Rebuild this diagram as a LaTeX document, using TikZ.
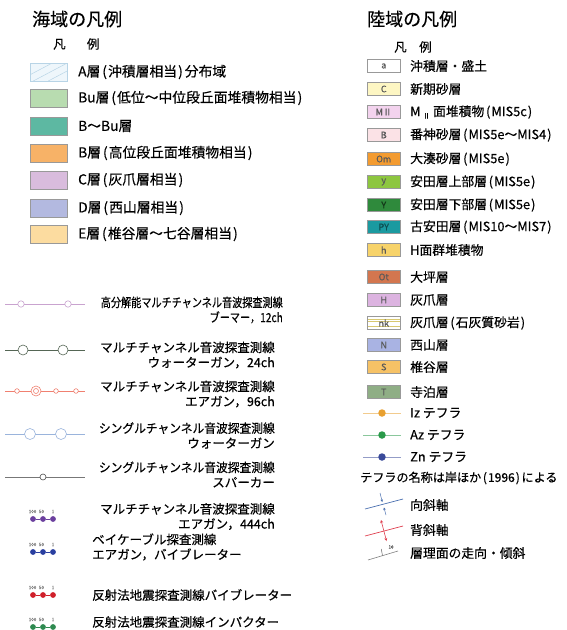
\documentclass[tikz,border=0pt]{standalone}
\usepackage{fontspec}
\setmainfont[FakeBold=0.35]{Noto Sans CJK JP}
\usepackage{graphicx}
\usetikzlibrary{arrows.meta}
\newcommand{\jpl}{\hspace{0.14em}(\hspace{0.08em}}
\newcommand{\jpr}{\hspace{0.08em})\hspace{0.14em}}
\definecolor{cA}{HTML}{EEF6FB}
\definecolor{cAl}{HTML}{B8D4E6}
\definecolor{cBu}{HTML}{B8DCB0}
\definecolor{cBBu}{HTML}{5DB8A2}
\definecolor{cB}{HTML}{F7B267}
\definecolor{cC}{HTML}{D9BCDD}
\definecolor{cD}{HTML}{B3B9E0}
\definecolor{cE}{HTML}{FCDCA0}
\definecolor{ra}{HTML}{FFFFFF}
\definecolor{rC}{HTML}{FDF6C3}
\definecolor{rM}{HTML}{F3D3EE}
\definecolor{rB}{HTML}{FBE2E6}
\definecolor{rOm}{HTML}{F39B30}
\definecolor{ry}{HTML}{8DC63F}
\definecolor{rY}{HTML}{2F8A3C}
\definecolor{rPY}{HTML}{1B9AA0}
\definecolor{rh}{HTML}{F7D36A}
\definecolor{rOt}{HTML}{D3764F}
\definecolor{rH}{HTML}{DCB3E0}
\definecolor{rnk}{HTML}{D8C870}
\definecolor{rN}{HTML}{A9B3E3}
\definecolor{rS}{HTML}{F6C266}
\definecolor{rT}{HTML}{8FAE85}
\definecolor{l1}{HTML}{C9A3CF}
\definecolor{l2}{HTML}{556655}
\definecolor{l3}{HTML}{F08070}
\definecolor{l4}{HTML}{9AB4DC}
\definecolor{l5}{HTML}{777777}
\definecolor{dP}{HTML}{6B3F9E}
\definecolor{dB}{HTML}{2A3FA0}
\definecolor{dR}{HTML}{D0202A}
\definecolor{dG}{HTML}{2E8A50}
\definecolor{tIz}{HTML}{E8A030}
\definecolor{tAz}{HTML}{2A9A4A}
\definecolor{tZn}{HTML}{3A4A9A}
\definecolor{fBl}{HTML}{4A70B0}
\definecolor{fRd}{HTML}{E04050}
\begin{document}
\begin{tikzpicture}[x=1pt,y=-1pt,
  titletxt/.style={anchor=west, inner sep=0, font=\fontsize{18}{20}\selectfont},
  hanrei/.style={anchor=west, inner sep=0, font=\fontsize{12.5}{14}\selectfont},
  sw/.style={draw=gray!80, line width=0.5pt, minimum width=37pt, minimum height=18pt, inner sep=0, anchor=west},
  ltxt/.style={anchor=west, inner sep=0, font=\fontsize{13.8}{15}\selectfont},
  rbox/.style={draw=gray!80, line width=0.5pt, minimum width=33pt, minimum height=13pt, inner sep=0, anchor=west, font=\fontsize{9}{10}\selectfont, text=black!65},
  rtxt/.style={anchor=west, inner sep=0, font=\fontsize{12.8}{14}\selectfont},
  mtxt/.style={inner sep=0, font=\fontsize{12.5}{15}\selectfont},
  tinytxt/.style={inner sep=0, font=\fontsize{4.6}{5}\selectfont, text=gray},
  dotn/.style={circle, inner sep=0, minimum size=5.8pt, fill=#1},
  ring/.style={circle, inner sep=0, draw=#1, fill=white, line width=0.6pt},
  tdot/.style={circle, inner sep=0, minimum size=7.5pt, fill=#1},
]
\useasboundingbox[fill=white] (0,0) rectangle (566,630);

% ---------- Left: sea area legend ----------
\node[titletxt] (ttl) at (32,19) {海域の凡例};
\node[hanrei] (hL) at (53,44) {凡\hspace{1.7em}例};

\node[sw, fill=cA, draw=cAl, path picture={
  \foreach \i in {0,1,2} \draw[cAl, line width=0.5pt] ([xshift=\i*15pt-12pt]path picture bounding box.south west) -- ++(34pt,18pt);
}] (swA) at (30,72) {};
\node[ltxt] (tA) at (78,72) {A層\jpl 沖積層相当\jpr 分布域};
\node[sw, fill=cBu] (swBu) at (30,98) {};
\node[ltxt] (tBu) at (78,98) {Bu層\jpl 低位～中位段丘面堆積物相当\jpr};
\node[sw, fill=cBBu] (swBBu) at (30,126) {};
\node[ltxt] (tBBu) at (78,126) {B～Bu層};
\node[sw, fill=cB] (swB) at (30,153) {};
\node[ltxt] (tB) at (78,153) {B層\jpl 高位段丘面堆積物相当\jpr};
\node[sw, fill=cC] (swC) at (30,180) {};
\node[ltxt] (tC) at (78,180) {C層\jpl 灰爪層相当\jpr};
\node[sw, fill=cD] (swD) at (30,208) {};
\node[ltxt] (tD) at (78,208) {D層\jpl 西山層相当\jpr};
\node[sw, fill=cE] (swE) at (30,234) {};
\node[ltxt] (tE) at (78,234) {E層\jpl 椎谷層～七谷層相当\jpr};

% survey lines
\coordinate (a1) at (5,304); \coordinate (b1) at (85,304);
\draw[l1, line width=0.6pt] (a1) -- (b1);
\node[ring=l1, minimum size=6.4pt] (c1a) at (21,304) {};
\node[ring=l1, minimum size=6.4pt] (c1b) at (68,304) {};
\node[mtxt, align=right, anchor=east] (m1) at (283,310) {\scalebox{0.81}[1]{高分解能マルチチャンネル音波探査測線}\\\scalebox{0.81}[1]{ブーマー，12ch}};

\coordinate (a2) at (5,350); \coordinate (b2) at (85,350);
\draw[l2, line width=0.6pt] (a2) -- (b2);
\node[ring=l2, minimum size=10pt] (c2a) at (23,350) {};
\node[ring=l2, minimum size=10pt] (c2b) at (63,350) {};
\node[mtxt, align=right, anchor=east] (m2) at (275,355) {マルチチャンネル音波探査測線\\ウォーターガン，24ch};

\coordinate (a3) at (5,391); \coordinate (b3) at (85,391);
\draw[l3, line width=0.6pt] (a3) -- (b3);
\node[ring=l3, minimum size=4.6pt] (c3a) at (17,391) {};
\node[ring=l3, minimum size=10pt] (c3b) at (36,391) {};
\node[circle, inner sep=0, draw=l3, minimum size=5pt, line width=0.6pt] (c3bi) at (36,391) {};
\node[ring=l3, minimum size=4.6pt] (c3c) at (56,391) {};
\node[ring=l3, minimum size=4.6pt] (c3d) at (76,391) {};
\node[mtxt, align=right, anchor=east] (m3) at (275,394) {マルチチャンネル音波探査測線\\エアガン，96ch};

\coordinate (a4) at (5,434); \coordinate (b4) at (85,434);
\draw[l4, line width=0.6pt] (a4) -- (b4);
\node[ring=l4, minimum size=11pt] (c4a) at (30,434) {};
\node[ring=l4, minimum size=11pt] (c4b) at (61,434) {};
\node[mtxt, align=right, anchor=east] (m4) at (275,435.5) {\scalebox{0.94}[1]{シングルチャンネル音波探査測線}\\ウォーターガン};

\coordinate (a5) at (5,477); \coordinate (b5) at (85,477);
\draw[l5, line width=0.6pt] (a5) -- (b5);
\node[ring=black!70, minimum size=6pt] (c5a) at (43,477) {};
\node[mtxt, align=right, anchor=east] (m5) at (275,474.5) {\scalebox{0.94}[1]{シングルチャンネル音波探査測線}\\スパーカー};

% dotted symbols
\foreach \r/\c/\y in {6/dP/519, 7/dB/552, 8/dR/595, 9/dG/627} {
  \node[dotn=\c] (d\r a) at (33,\y) {};
  \node[dotn=\c] (d\r b) at (43,\y) {};
  \node[dotn=\c] (d\r c) at (53,\y) {};
  \draw[\c, line width=0.5pt] (d\r a) -- (d\r b) -- (d\r c);
  \node[tinytxt] (n\r a) at (32.5,\y-7.5) {100};
  \node[tinytxt] (n\r b) at (41.5,\y-7.5) {50};
  \node[tinytxt] (n\r c) at (53,\y-7.5) {1};
}
\node[mtxt, align=right, anchor=east] (m6) at (275,516.5) {マルチチャンネル音波探査測線\\エアガン，444ch};
\node[mtxt, align=left, anchor=west] (m7) at (92,547) {ベイケーブル探査測線\\エアガン，バイブレーター};
\node[mtxt, anchor=west] (m8) at (92,595) {反射法地震探査測線バイブレーター};
\node[mtxt, anchor=west] (m9) at (92,622) {反射法地震探査測線インパクター};

% ---------- Right: land area legend ----------
\node[titletxt] (ttr) at (367,19) {陸域の凡例};
\node[hanrei] (hR) at (394,47) {凡\hspace{1em}例};

\node[rbox, fill=ra] (ba) at (367,66) {a};
\node[rtxt] (ra) at (410,66) {沖積層・盛土};
\node[rbox, fill=rC] (bC) at (367,89) {C};
\node[rtxt] (rC) at (410,89) {新期砂層};
\node[rbox, fill=rM] (bM) at (367,112) {MⅡ};
\node[rtxt] (rM) at (410,112) {M\,\raisebox{-0.35ex}{\fontsize{7.5}{8}\selectfont Ⅱ}\ 面堆積物\jpl MIS5c\jpr};
\node[rbox, fill=rB] (bB) at (367,135) {B};
\node[rtxt] (rB) at (410,135) {番神砂層\jpl MIS5e～MIS4\jpr};
\node[rbox, fill=rOm] (bOm) at (367,159) {Om};
\node[rtxt] (rOm) at (410,159) {大湊砂層\jpl MIS5e\jpr};
\node[rbox, fill=ry] (by) at (367,182) {y};
\node[rtxt] (ry) at (410,182) {安田層上部層\jpl MIS5e\jpr};
\node[rbox, fill=rY, text=black!60!rY] (bY) at (367,205) {Y};
\node[rtxt] (rY) at (410,205) {安田層下部層\jpl MIS5e\jpr};
\node[rbox, fill=rPY, text=black!50!rPY] (bPY) at (367,227) {PY};
\node[rtxt] (rPY) at (410,227) {古安田層\jpl MIS10～MIS7\jpr};
\node[rbox, fill=rh] (bh) at (367,250) {h};
\node[rtxt] (rh) at (410,250) {H面群堆積物};
\node[rbox, fill=rOt] (bOt) at (367,277) {Ot};
\node[rtxt] (rOt) at (410,277) {大坪層};
\node[rbox, fill=rH] (bH) at (367,300) {H};
\node[rtxt] (rH) at (410,300) {灰爪層};
\node[rbox, fill=white, path picture={
  \draw[rnk, line width=0.6pt] ([yshift=-3pt]path picture bounding box.north west) -- ([yshift=-3pt]path picture bounding box.north east);
  \draw[rnk, line width=0.6pt] ([yshift=-5pt]path picture bounding box.north west) -- ([yshift=-5pt]path picture bounding box.north east);
  \draw[rnk, line width=0.6pt] ([yshift=3pt]path picture bounding box.south west) -- ([yshift=3pt]path picture bounding box.south east);
}] (bnk) at (367,323) {nk};
\node[rtxt] (rnk) at (410,323) {灰爪層\jpl 石灰質砂岩\jpr};
\node[rbox, fill=rN] (bN) at (367,345) {N};
\node[rtxt] (rN) at (410,345) {西山層};
\node[rbox, fill=rS] (bS) at (367,367) {S};
\node[rtxt] (rS) at (410,367) {椎谷層};
\node[rbox, fill=rT] (bT) at (367,392) {T};
\node[rtxt] (rT) at (410,392) {寺泊層};

% tephra
\foreach \n/\c/\y in {Iz/tIz/413, Az/tAz/435, Zn/tZn/457} {
  \coordinate (ta\n) at (363,\y); \coordinate (tb\n) at (401,\y);
  \draw[\c!55, line width=0.7pt] (ta\n) -- (tb\n);
  \node[tdot=\c] (td\n) at (382,\y) {};
}
\node[rtxt] (rIz) at (410,413) {Iz テフラ};
\node[rtxt] (rAz) at (410,435) {Az テフラ};
\node[rtxt] (rZn) at (410,457) {Zn テフラ};
\node[rtxt, font=\fontsize{12.1}{14}\selectfont] (rnote) at (360,478) {テフラの名称は岸ほか\jpl 1996\jpr による};

% fold axes
\coordinate (sy1) at (365,509); \coordinate (sy2) at (403,499);
\draw[fBl, line width=0.7pt] (sy1) -- (sy2);
\coordinate (sy3) at (380,493); \coordinate (sy4) at (386,515);
\coordinate (sy5) at (382.3,502); \coordinate (sy6) at (383.9,507.5);
\draw[fBl, line width=0.5pt, -{Stealth[length=2.5pt,width=2.5pt]}] (sy3) -- (sy5);
\draw[fBl, line width=0.5pt, -{Stealth[length=2.5pt,width=2.5pt]}] (sy4) -- (sy6);
\node[rtxt] (rsy) at (410,505) {向斜軸};

\coordinate (an1) at (365,536); \coordinate (an2) at (403,526);
\draw[fRd, line width=0.7pt] (an1) -- (an2);
\coordinate (an3) at (381,520); \coordinate (an4) at (386.5,541);
\draw[fRd, line width=0.6pt, {Stealth[length=3pt,width=3pt]}-{Stealth[length=3pt,width=3pt]}] (an3) -- (an4);
\node[rtxt] (ran) at (410,530) {背斜軸};

\coordinate (st1) at (368,560); \coordinate (st2) at (398,551);
\draw[gray, line width=0.6pt] (st1) -- (st2);
\coordinate (st3) at (382.5,555.7); \coordinate (st4) at (381.3,549);
\draw[gray!80!black, line width=0.5pt] (st3) -- (st4);
\node[tinytxt, text=black!70] (st5) at (391,547) {10};
\node[rtxt] (rst) at (410,553) {層理面の走向・傾斜};
\end{tikzpicture}
\end{document}
